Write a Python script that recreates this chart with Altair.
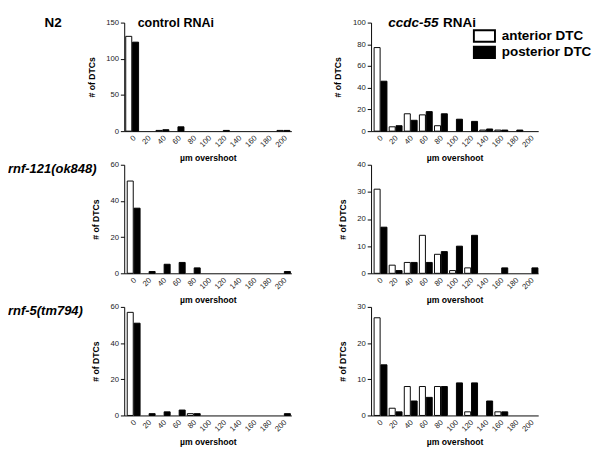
import altair as alt
import pandas as pd

cats = ["0", "20", "40", "60", "80", "100", "120", "140", "160", "180", "200"]
series = ["anterior DTC", "posterior DTC"]

n2_ctrl_ant = [131, 0, 1, 0, 0, 0, 0, 0, 0, 0, 1]
n2_ctrl_post = [123, 0, 2, 6, 0, 0, 1, 0, 0, 0, 1]
n2_ccdc_ant = [77, 4, 16, 15, 5, 0, 0, 1, 1, 0, 0]
n2_ccdc_post = [46, 5, 10, 18, 16, 11, 9, 2, 1, 1, 0]
rnf121_ctrl_ant = [51, 0, 0, 0, 0, 0, 0, 0, 0, 0, 0]
rnf121_ctrl_post = [36, 1, 5, 6, 3, 0, 0, 0, 0, 0, 1]
rnf121_ccdc_ant = [31, 3, 4, 14, 7, 1, 2, 0, 0, 0, 0]
rnf121_ccdc_post = [17, 1, 4, 4, 8, 10, 14, 0, 2, 0, 2]
rnf5_ctrl_ant = [57, 0, 0, 0, 1, 0, 0, 0, 0, 0, 0]
rnf5_ctrl_post = [51, 1, 2, 3, 1, 0, 0, 0, 0, 0, 1]
rnf5_ccdc_ant = [27, 2, 8, 8, 8, 0, 1, 0, 1, 0, 0]
rnf5_ccdc_post = [14, 1, 4, 5, 8, 9, 9, 4, 1, 0, 0]

FONT = "Liberation Sans"
H = 113
W = 174


def label(text, x, y, size=14, style="normal"):
    return alt.Chart(pd.DataFrame({"t": [text]})).mark_text(
        align="left", baseline="middle", fontSize=size, fontWeight="bold",
        fontStyle=style, font=FONT, color="black"
    ).encode(x=alt.value(x), y=alt.value(y), text="t:N")


def panel(ant, post, ymax, ystep, pi, po, legend=None, extras=()):
    df = pd.DataFrame({
        "overshoot": cats * 2,
        "series": [series[0]] * len(cats) + [series[1]] * len(cats),
        "count": ant + post,
    })
    bars = alt.Chart(df).transform_filter("datum.count > 0").mark_bar(
        stroke="black", strokeWidth=1
    ).encode(
        x=alt.X("overshoot:N", sort=cats,
                scale=alt.Scale(domain=cats, paddingInner=pi, paddingOuter=po),
                axis=alt.Axis(title="µm overshoot", labelAngle=-45, ticks=False,
                              labelPadding=3, titlePadding=5)),
        xOffset=alt.XOffset("series:N", sort=series,
                            scale=alt.Scale(domain=series, paddingInner=0.12)),
        y=alt.Y("count:Q", scale=alt.Scale(domain=[0, ymax], nice=False),
                axis=alt.Axis(title="# of DTCs", values=list(range(0, ymax + 1, ystep)),
                              titlePadding=10)),
        color=alt.Color("series:N", scale=alt.Scale(domain=series, range=["white", "black"]),
                        legend=legend),
    )
    return alt.layer(bars, *extras).properties(width=W, height=H)


legend = alt.Legend(
    orient="none", legendX=111, legendY=7, title=None,
    symbolType="M-1.83,-1H1.83V1H-1.83Z", symbolSize=144,
    symbolStrokeColor="black", symbolStrokeWidth=2,
    labelFontSize=14, labelFontWeight="bold", labelFont=FONT, labelColor="black",
    labelOffset=11, rowPadding=-4, padding=0,
)

p1 = panel(n2_ctrl_ant, n2_ctrl_post, 150, 50, 0.15, 0.1,
           extras=[label("N2", -83, 1), label("control RNAi", 14, 1, 13)])
p2 = panel(n2_ccdc_ant, n2_ccdc_post, 100, 20, 0.33, 0.2, legend=legend,
           extras=[label("ccdc-55", 18, 1, 14, "italic"), label("RNAi", 75, 1, 14)])
p3 = panel(rnf121_ctrl_ant, rnf121_ctrl_post, 60, 20, 0.28, 0.2,
           extras=[label("rnf-121(ok848)", -121, 5, 13.5, "italic")])
p4 = panel(rnf121_ccdc_ant, rnf121_ccdc_post, 40, 10, 0.33, 0.2)
p5 = panel(rnf5_ctrl_ant, rnf5_ctrl_post, 60, 20, 0.28, 0.2,
           extras=[label("rnf-5(tm794)", -121, 4, 13.5, "italic")])
p6 = panel(rnf5_ccdc_ant, rnf5_ccdc_post, 30, 10, 0.33, 0.2)

chart = alt.concat(
    p1, p2, p3, p4, p5, p6, columns=2, bounds="flush",
    spacing={"row": 35, "column": 83},
).resolve_scale(color="independent").configure(
    padding=0, background="white", font=FONT
).configure_view(stroke=None).configure_axis(
    grid=False, domainColor="black", domainWidth=1, tickColor="black", tickSize=4,
    labelFont=FONT, labelFontSize=8, labelColor="#222",
    titleFont=FONT, titleFontSize=9, titleFontWeight="bold", titleColor="black",
)

chart.save("out.html", embed_options={"renderer": "svg", "actions": False})
